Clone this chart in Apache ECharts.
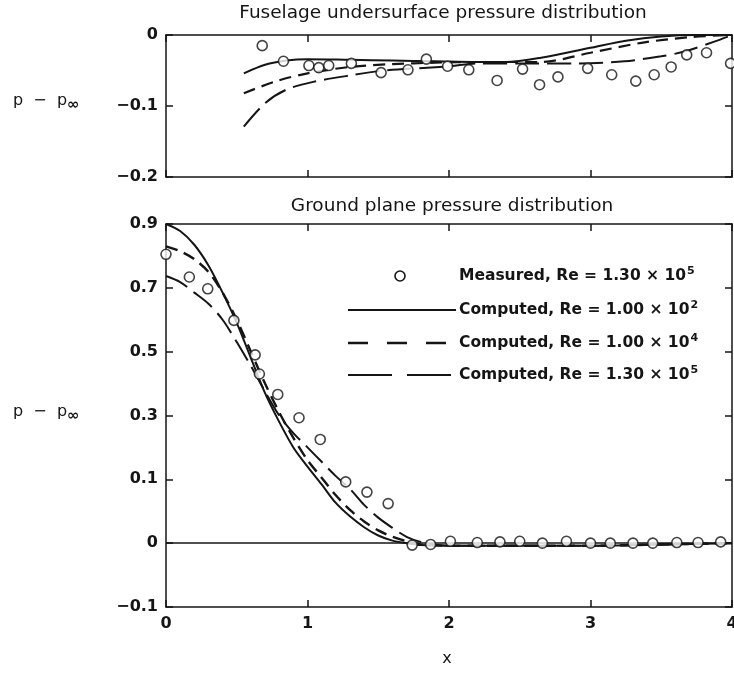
<!DOCTYPE html>
<html>
<head>
<meta charset="utf-8">
<script src="https://cdn.jsdelivr.net/npm/echarts@6/dist/echarts.min.js"></script>
<style>
html, body { margin: 0; padding: 0; background: #fff; }
#main { width: 734px; height: 675px; }
</style>
</head>
<body>
<div id="main"></div>
<script>
// ---- fuselage undersurface (top panel) ----
var fusMeasX = [0.68, 0.83, 1.01, 1.08, 1.15, 1.31, 1.52, 1.71, 1.84, 1.99, 2.14, 2.34, 2.52, 2.64, 2.77, 2.98, 3.15, 3.32, 3.45, 3.57, 3.68, 3.82, 3.99];
var fusMeasY = [-0.015, -0.037, -0.043, -0.046, -0.043, -0.040, -0.053, -0.049, -0.034, -0.044, -0.049, -0.064, -0.048, -0.070, -0.059, -0.047, -0.056, -0.065, -0.056, -0.045, -0.028, -0.025, -0.040];

var fusRe2X = [0.55, 0.7, 0.85, 1.0, 1.3, 1.6, 1.9, 2.2, 2.4, 2.65, 3.0, 3.25, 3.5, 3.75, 4.0];
var fusRe2Y = [-0.054, -0.042, -0.036, -0.034, -0.035, -0.036, -0.037, -0.038, -0.038, -0.032, -0.018, -0.008, -0.002, 0, 0];

var fusRe4X = [0.55, 0.78, 1.0, 1.3, 1.6, 1.9, 2.2, 2.4, 2.65, 3.0, 3.36, 3.7, 4.0];
var fusRe4Y = [-0.082, -0.065, -0.054, -0.045, -0.041, -0.039, -0.038, -0.038, -0.038, -0.025, -0.011, -0.003, 0];

var fusRe5X = [0.55, 0.7, 0.85, 1.04, 1.3, 1.55, 2.0, 2.2, 2.5, 2.9, 3.24, 3.5, 3.67, 3.88, 4.0];
var fusRe5Y = [-0.129, -0.096, -0.077, -0.066, -0.057, -0.050, -0.044, -0.040, -0.040, -0.040, -0.037, -0.030, -0.023, -0.009, 0];

// ---- ground plane (bottom panel) ----
var grdMeasX = [0, 0.165, 0.295, 0.48, 0.63, 0.66, 0.79, 0.94, 1.09, 1.27, 1.42, 1.57, 1.74, 1.87, 2.01, 2.2, 2.36, 2.5, 2.66, 2.83, 3.0, 3.14, 3.3, 3.44, 3.61, 3.76, 3.92];
var grdMeasY = [0.805, 0.734, 0.697, 0.598, 0.49, 0.43, 0.366, 0.293, 0.225, 0.096, 0.080, 0.062, -0.003, -0.002, 0.003, 0.001, 0.002, 0.003, 0.0, 0.003, 0.0, 0.0, 0.0, 0.0, 0.001, 0.001, 0.002];

var grdCompX = [0, 0.1, 0.2, 0.3, 0.4, 0.5, 0.6, 0.7, 0.8, 0.9, 1.0, 1.1, 1.2, 1.3, 1.4, 1.5, 1.6, 1.7, 1.8, 2.0, 2.5, 3.0, 3.5, 4.0];
var grdRe2Y = [0.9, 0.878, 0.835, 0.77, 0.685, 0.59, 0.48, 0.37, 0.28, 0.20, 0.14, 0.092, 0.063, 0.042, 0.025, 0.012, 0.004, 0, -0.003, -0.004, -0.004, -0.004, -0.002, 0];
var grdRe4Y = [0.83, 0.815, 0.79, 0.75, 0.685, 0.60, 0.50, 0.40, 0.31, 0.23, 0.16, 0.105, 0.075, 0.052, 0.034, 0.02, 0.01, 0.003, -0.002, -0.004, -0.004, -0.004, -0.002, 0];
var grdRe5Y = [0.737, 0.718, 0.685, 0.65, 0.60, 0.53, 0.455, 0.375, 0.30, 0.245, 0.20, 0.155, 0.11, 0.085, 0.06, 0.04, 0.024, 0.01, 0.002, -0.004, -0.004, -0.004, -0.002, 0];

// tick labels of the ground plane axis (evenly spaced on the figure)
var grdTicks = ['-0.1', '0', '0.1', '0.3', '0.5', '0.7', '0.9'];
var xTicks = ['0', '1', '2', '3', '4'];

// figure puts the labels evenly, so map a value onto the tick index
function toAxis(v) {
    return v < 0.1 ? 1 + v / 0.1 : 2 + (v - 0.1) / 0.2;
}
function pairs(xs, ys, f) {
    return xs.map(function (x, i) { return [x, f ? f(ys[i]) : ys[i]]; });
}
function minus(s) { return String(s).replace('-', '\u2212'); }

var ink = '#151515';
var font = 'DejaVu Sans';

function xAx(grid, pos, labels) {
    return {
        gridIndex: grid, type: 'value', position: pos, min: 0, max: 4, interval: 1,
        axisLine: { show: true, onZero: false, lineStyle: { color: ink, width: 1.5 } },
        axisTick: { show: true, inside: true, length: 7, lineStyle: { color: ink, width: 1.5 } },
        axisLabel: { show: labels, color: ink, fontSize: 16, fontWeight: 'bold', fontFamily: font, margin: 9,
            formatter: function (v) { return xTicks[Math.round(v)]; } },
        splitLine: { show: false }
    };
}
function yAx(grid, pos, labels, min, max, interval, fmt) {
    return {
        gridIndex: grid, type: 'value', position: pos, min: min, max: max, interval: interval,
        axisLine: { show: true, onZero: false, lineStyle: { color: ink, width: 1.5 } },
        axisTick: { show: true, inside: true, length: 7, lineStyle: { color: ink, width: 1.5 } },
        axisLabel: { show: labels, color: ink, fontSize: 16, fontWeight: 'bold', fontFamily: font, margin: 8, formatter: fmt },
        splitLine: { show: false }
    };
}
function curve(name, xi, yi, data, dash, w) {
    return {
        name: name, type: 'line', xAxisIndex: xi, yAxisIndex: yi, data: data,
        smooth: 0.3, showSymbol: false, silent: true,
        lineStyle: { color: ink, width: w, type: dash }
    };
}
function meas(xi, yi, data) {
    return {
        name: 'Measured', type: 'scatter', xAxisIndex: xi, yAxisIndex: yi, data: data,
        symbol: 'circle', symbolSize: 10, z: 5, silent: true,
        itemStyle: { color: '#fff', borderColor: ink, borderWidth: 1.6 }
    };
}

var shortDash = [12, 7];
var longDash = [24, 8];
var supText = { fontSize: 11, fontWeight: 'bold', fontFamily: font, fill: ink, verticalAlign: 'top', padding: [0, 0, 9, 1] };
var legFont = 'bold 15.5px ' + font;
var nameRich = { s: { fontSize: 15, fontWeight: 'bold', fontFamily: font, fill: ink, padding: [9, 0, 0, 0] } };

var chart = echarts.init(document.getElementById('main'));
chart.setOption({
    backgroundColor: '#fff',
    animation: false,
    grid: [
        { left: 166, top: 35, width: 566, height: 142, containLabel: false, outerBoundsMode: 'none' },
        { left: 166, top: 224, width: 566, height: 383, containLabel: false, outerBoundsMode: 'none' }
    ],
    xAxis: [xAx(0, 'bottom', false), xAx(0, 'top', false), xAx(1, 'bottom', true), xAx(1, 'top', false)],
    yAxis: [
        yAx(0, 'left', true, -0.2, 0, 0.1, function (v) { return minus(Math.round(v * 10) / 10); }),
        yAx(0, 'right', false, -0.2, 0, 0.1),
        yAx(1, 'left', true, 0, 6, 1, function (v) { return minus(grdTicks[Math.round(v)]); }),
        yAx(1, 'right', false, 0, 6, 1)
    ],
    series: [
        curve('Computed, Re = 1.00 x 10^2', 0, 0, pairs(fusRe2X, fusRe2Y), 'solid', 2),
        curve('Computed, Re = 1.00 x 10^4', 0, 0, pairs(fusRe4X, fusRe4Y), shortDash, 2.2),
        curve('Computed, Re = 1.30 x 10^5', 0, 0, pairs(fusRe5X, fusRe5Y), longDash, 2),
        meas(0, 0, pairs(fusMeasX, fusMeasY)),
        curve('Computed, Re = 1.00 x 10^2', 2, 2, pairs(grdCompX, grdRe2Y, toAxis), 'solid', 2),
        curve('Computed, Re = 1.00 x 10^4', 2, 2, pairs(grdCompX, grdRe4Y, toAxis), shortDash, 2.4),
        curve('Computed, Re = 1.30 x 10^5', 2, 2, pairs(grdCompX, grdRe5Y, toAxis), longDash, 2),
        {
            type: 'line', xAxisIndex: 2, yAxisIndex: 2, data: [], silent: true,
            markLine: { symbol: 'none', silent: true, label: { show: false },
                lineStyle: { color: ink, width: 1.5, type: 'solid' },
                data: [{ yAxis: toAxis(0) }] }
        },
        meas(2, 2, pairs(grdMeasX, grdMeasY, toAxis))
    ],
    graphic: [
        { type: 'text', x: 443, y: 13, style: { text: 'Fuselage undersurface pressure distribution', fill: ink,
            font: '18.5px ' + font, textAlign: 'center', textVerticalAlign: 'middle' } },
        { type: 'text', x: 452, y: 206, style: { text: 'Ground plane pressure distribution', fill: ink,
            font: '18.5px ' + font, textAlign: 'center', textVerticalAlign: 'middle' } },
        { type: 'text', x: 447, y: 659, style: { text: 'x', fill: ink, font: '16px ' + font, textAlign: 'center', textVerticalAlign: 'middle' } },
        { type: 'text', x: 13, y: 101, style: { text: 'p  \u2212  p{s|\u221e}', fill: ink, font: '16px ' + font, textVerticalAlign: 'middle', rich: nameRich } },
        { type: 'text', x: 13, y: 412, style: { text: 'p  \u2212  p{s|\u221e}', fill: ink, font: '16px ' + font, textVerticalAlign: 'middle', rich: nameRich } },
        // legend
        { type: 'circle', shape: { cx: 400, cy: 276, r: 5 }, style: { fill: '#fff', stroke: ink, lineWidth: 1.6 } },
        { type: 'line', shape: { x1: 348, y1: 310, x2: 456, y2: 310 }, style: { stroke: ink, lineWidth: 2.2 } },
        { type: 'line', shape: { x1: 348, y1: 343, x2: 456, y2: 343 }, style: { stroke: ink, lineWidth: 2.4, lineDash: [20, 19] } },
        { type: 'line', shape: { x1: 348, y1: 375, x2: 456, y2: 375 }, style: { stroke: ink, lineWidth: 2.2, lineDash: [44, 15] } },
        { type: 'text', x: 459, y: 276, style: { text: 'Measured, Re = 1.30 \u00d7 10{sup|5}', textVerticalAlign: 'middle', font: legFont, fill: ink, rich: { sup: supText } } },
        { type: 'text', x: 459, y: 310, style: { text: 'Computed, Re = 1.00 \u00d7 10{sup|2}', textVerticalAlign: 'middle', font: legFont, fill: ink, rich: { sup: supText } } },
        { type: 'text', x: 459, y: 343, style: { text: 'Computed, Re = 1.00 \u00d7 10{sup|4}', textVerticalAlign: 'middle', font: legFont, fill: ink, rich: { sup: supText } } },
        { type: 'text', x: 459, y: 375, style: { text: 'Computed, Re = 1.30 \u00d7 10{sup|5}', textVerticalAlign: 'middle', font: legFont, fill: ink, rich: { sup: supText } } }
    ]
});
</script>
</body>
</html>
